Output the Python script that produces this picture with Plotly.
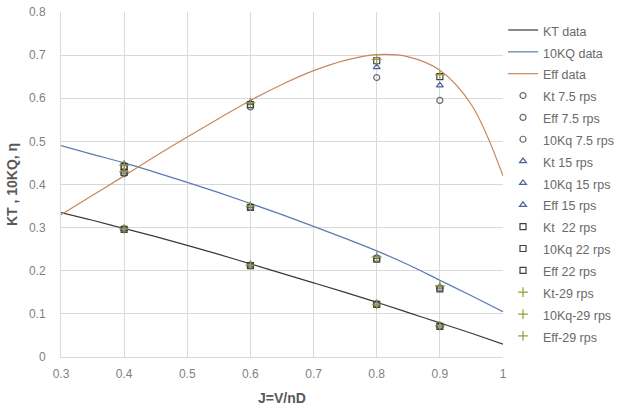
import plotly.graph_objects as go

# Fitted curves
J_curve = [0.3, 0.35, 0.4, 0.45, 0.5, 0.55, 0.6, 0.65, 0.7, 0.75, 0.8, 0.85, 0.9, 0.95, 1.0]
kt_curve = [0.335, 0.317, 0.298, 0.279, 0.259, 0.238, 0.216, 0.194, 0.172, 0.150, 0.127, 0.103, 0.079, 0.055, 0.030]
kq10_curve = [0.490, 0.470, 0.450, 0.428, 0.405, 0.381, 0.356, 0.330, 0.303, 0.275, 0.246, 0.214, 0.178, 0.142, 0.105]
eff_curve = [0.330, 0.375, 0.420, 0.466, 0.510, 0.553, 0.595, 0.632, 0.664, 0.688, 0.701, 0.696, 0.665, 0.585, 0.420]

# Measured points
J_pts = [0.4, 0.6, 0.8, 0.9]
kt_75 = [0.297, 0.213, 0.123, 0.072]
eff_75 = [0.425, 0.580, 0.648, 0.595]
kq_75 = [0.440, 0.348, 0.228, 0.160]
kt_15 = [0.297, 0.214, 0.124, 0.073]
kq_15 = [0.447, 0.350, 0.232, 0.163]
eff_15 = [0.430, 0.590, 0.672, 0.630]
kt_22 = [0.296, 0.212, 0.122, 0.071]
kq_22 = [0.442, 0.347, 0.227, 0.158]
eff_22 = [0.428, 0.585, 0.687, 0.650]
kt_29 = [0.297, 0.213, 0.122, 0.072]
kq_29 = [0.445, 0.350, 0.232, 0.165]
eff_29 = [0.430, 0.590, 0.690, 0.655]

def lg(name):
    return "<span style='font-size:12.5px'>" + name + "</span>"

fig = go.Figure()
fig.add_trace(go.Scatter(x=J_curve, y=kt_curve, mode="lines", name=lg("KT data"),
                         line=dict(color="#3a3a3a", width=1.2, shape="spline")))
fig.add_trace(go.Scatter(x=J_curve, y=kq10_curve, mode="lines", name=lg("10KQ data"),
                         line=dict(color="#5a7bb0", width=1.2, shape="spline")))
fig.add_trace(go.Scatter(x=J_curve, y=eff_curve, mode="lines", name=lg("Eff data"),
                         line=dict(color="#c8865a", width=1.2, shape="spline")))

def pts(y, name, symbol, color, size=6):
    fig.add_trace(go.Scatter(x=J_pts, y=y, mode="markers", name=lg(name),
                             marker=dict(symbol=symbol, size=size, color=color,
                                         line=dict(color=color, width=1.2))))

c_circ = "#6b6b6b"
c_tri = "#4d5f9a"
c_sq = "#404040"
c_plus = "#9a9a3a"
pts(kt_75, "Kt 7.5 rps", "circle-open", c_circ)
pts(eff_75, "Eff 7.5 rps", "circle-open", c_circ)
pts(kq_75, "10Kq 7.5 rps", "circle-open", c_circ)
pts(kt_15, "Kt 15 rps", "triangle-up-open", c_tri)
pts(kq_15, "10Kq 15 rps", "triangle-up-open", c_tri)
pts(eff_15, "Eff 15 rps", "triangle-up-open", c_tri)
pts(kt_22, "Kt  22 rps", "square-open", c_sq)
pts(kq_22, "10Kq 22 rps", "square-open", c_sq)
pts(eff_22, "Eff 22 rps", "square-open", c_sq)
pts(kt_29, "Kt-29 rps", "cross-thin-open", c_plus, 7)
pts(kq_29, "10Kq-29 rps", "cross-thin-open", c_plus, 7)
pts(eff_29, "Eff-29 rps", "cross-thin-open", c_plus, 7)

fig.update_layout(
    width=621, height=415,
    margin=dict(l=61, r=118, t=12, b=58, autoexpand=False),
    paper_bgcolor="white", plot_bgcolor="white",
    font=dict(family="Liberation Sans, Arial, sans-serif", color="#595959", size=12),
    legend=dict(x=1.0, y=0.994, xanchor="left", yanchor="top",
                font=dict(size=14.5, color="#6a6a6a"), tracegroupgap=0,
                itemwidth=30, bgcolor="rgba(0,0,0,0)"),
    showlegend=True,
)
fig.update_xaxes(range=[0.3, 1.0], dtick=0.1, tick0=0.3, showgrid=True, gridcolor="#d9d9d9",
                 zeroline=False, showline=True, linecolor="#d9d9d9", ticks="",
                 ticklabelstandoff=6,
                 tickfont=dict(size=12, color="#7f7f7f"),
                 title=dict(text="<b>J=V/nD</b>", font=dict(size=14, color="#595959"), standoff=12))
fig.update_yaxes(range=[0, 0.8], dtick=0.1, showgrid=True, gridcolor="#d9d9d9",
                 zeroline=False, showline=True, linecolor="#d9d9d9", ticks="",
                 ticklabelstandoff=12,
                 tickfont=dict(size=12, color="#7f7f7f"),
                 title=dict(text="<b>KT , 10KQ, η</b>", font=dict(size=14, color="#595959"), standoff=8))

fig.write_html("out.html")
